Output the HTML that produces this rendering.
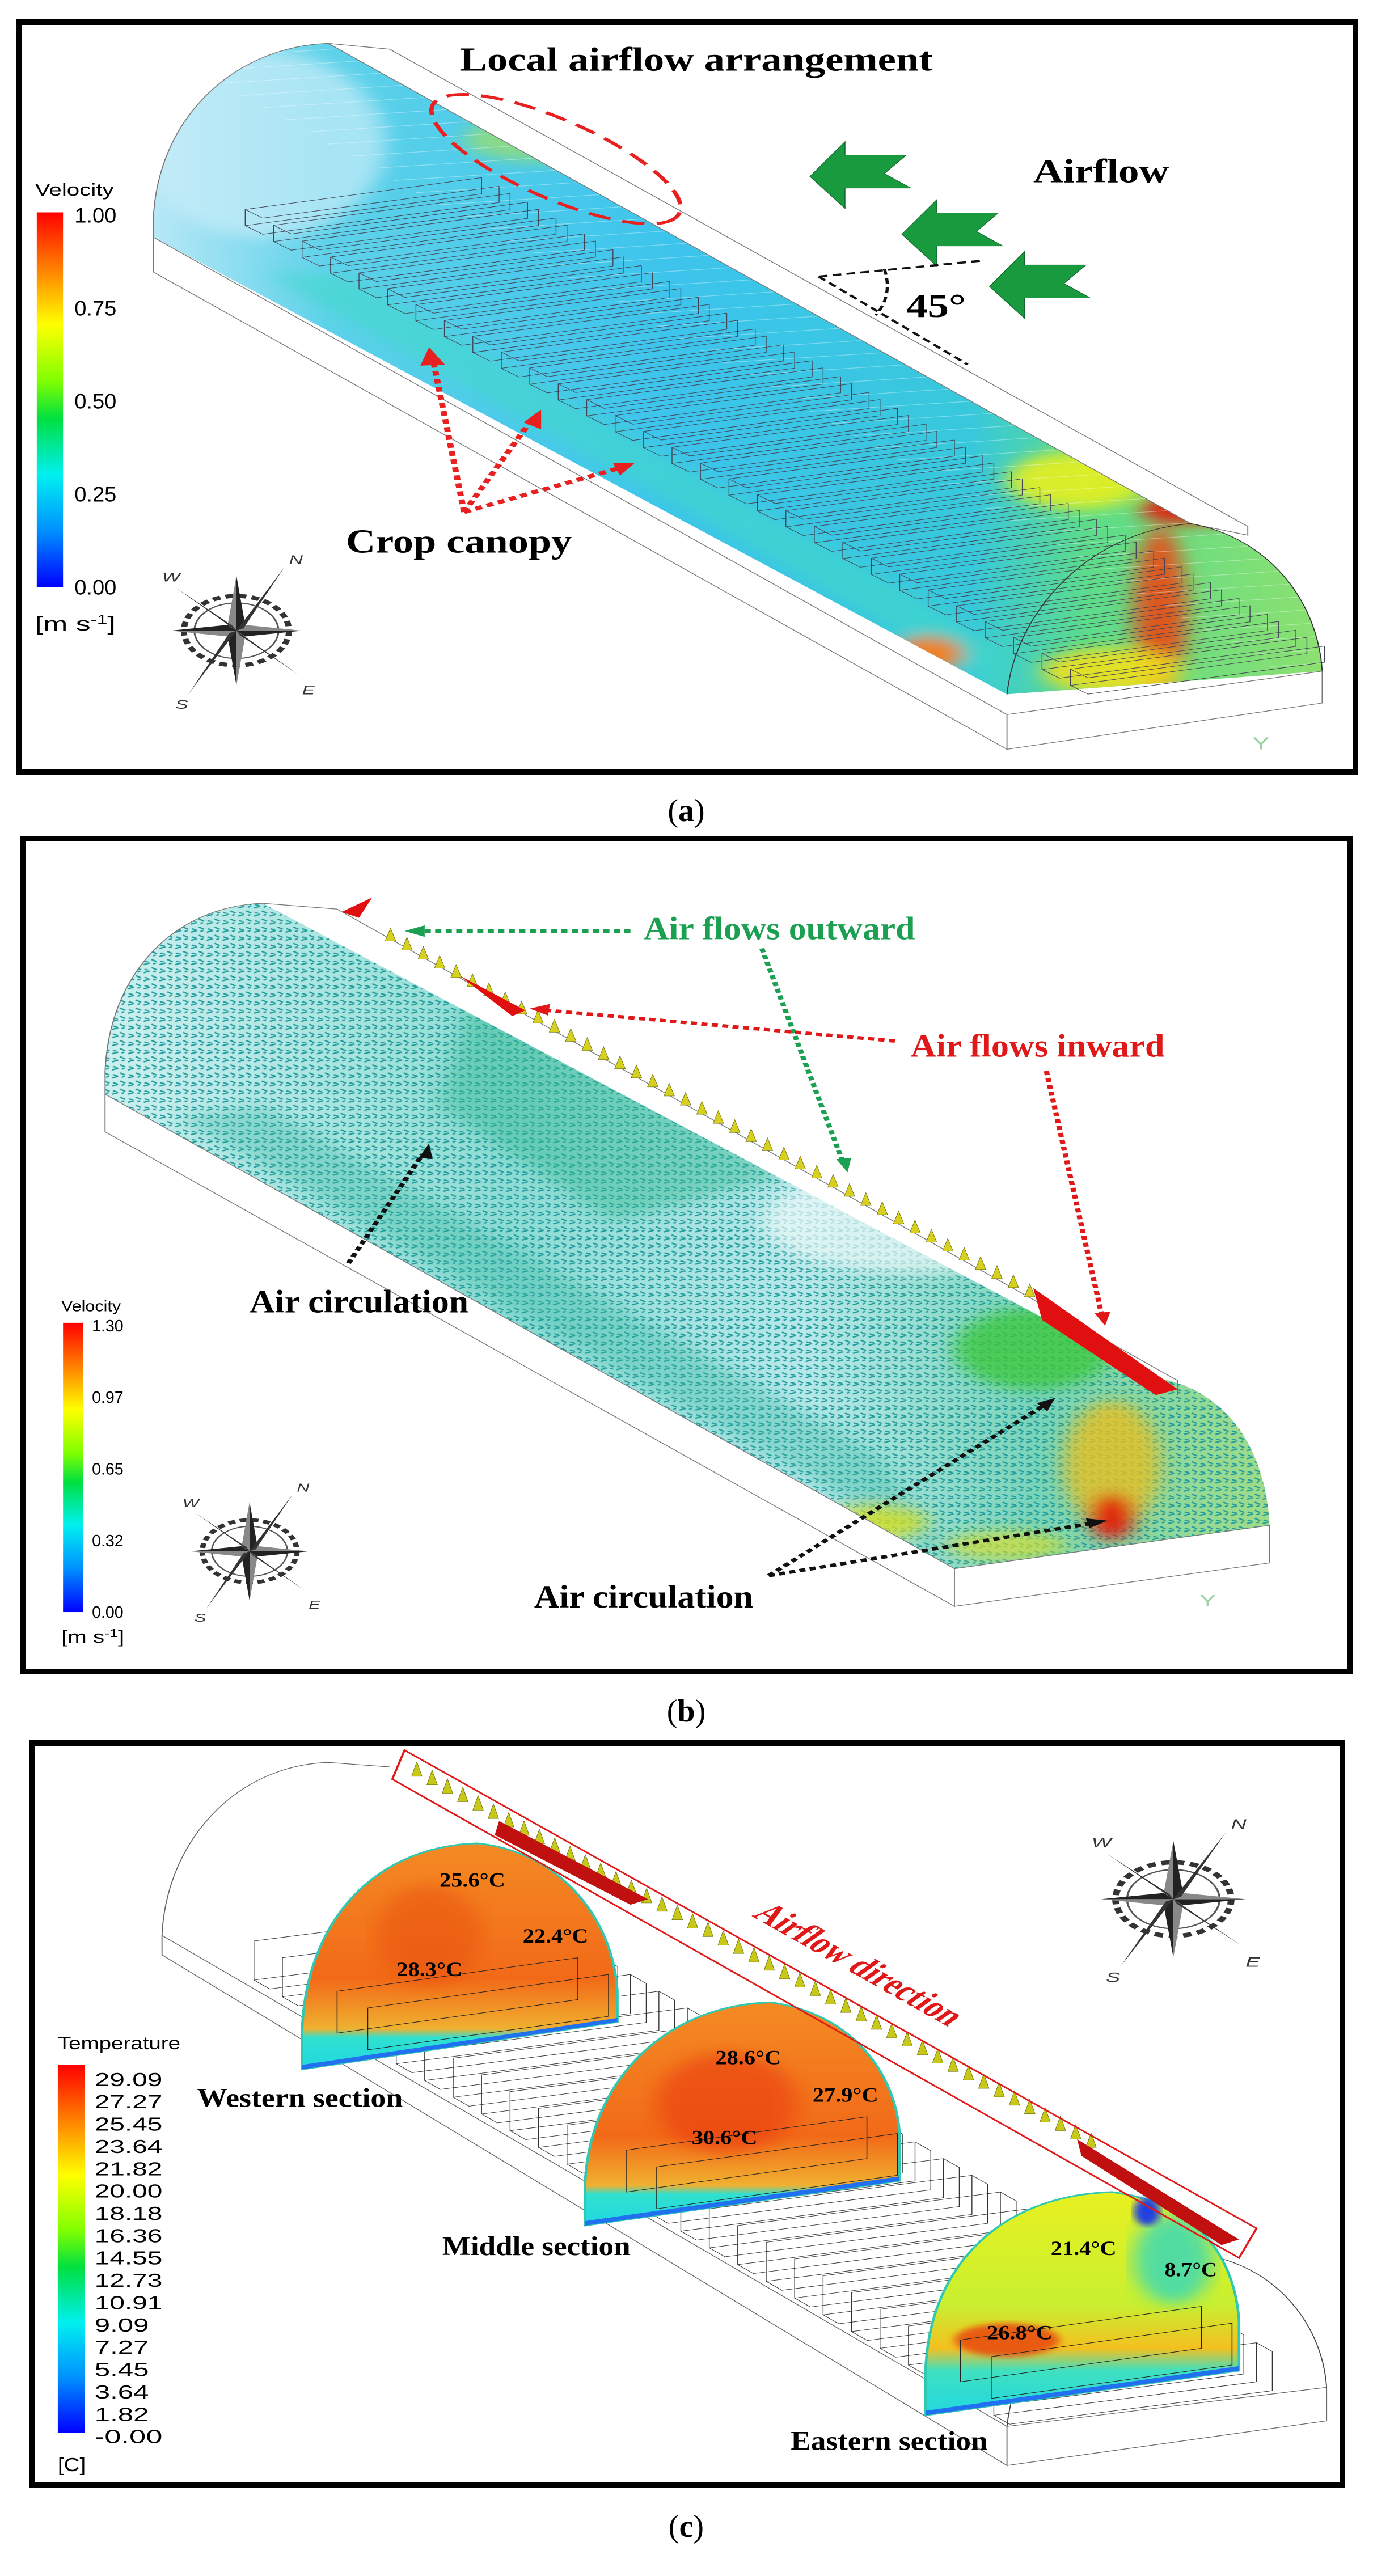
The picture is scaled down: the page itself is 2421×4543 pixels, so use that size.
<!DOCTYPE html>
<html><head><meta charset="utf-8"><style>
html,body{margin:0;padding:0;background:#fff}
svg{display:block}
.lab{font-family:"Liberation Serif",serif;font-weight:bold}
.sans{font-family:"Liberation Sans",sans-serif}
</style></head><body>
<svg id="fig" xmlns="http://www.w3.org/2000/svg" width="2421" height="4543" viewBox="0 0 2421 4543">
<defs>
<linearGradient id="gA" gradientUnits="userSpaceOnUse" x1="175" y1="0" x2="1510" y2="0">
<stop offset="0" stop-color="#b8e8f6"/><stop offset="0.15" stop-color="#5ed2ea"/><stop offset="0.45" stop-color="#3cc4ec"/><stop offset="0.7" stop-color="#38c8dc"/><stop offset="0.8" stop-color="#5cdc8a"/><stop offset="1" stop-color="#8ce070"/>
</linearGradient>
<linearGradient id="cbV" x1="0" y1="0" x2="0" y2="1">
<stop offset="0" stop-color="#ff0000"/><stop offset="0.15" stop-color="#ff8000"/><stop offset="0.3" stop-color="#ffff00"/><stop offset="0.45" stop-color="#80ff00"/><stop offset="0.55" stop-color="#00e040"/><stop offset="0.7" stop-color="#00f0f0"/><stop offset="0.85" stop-color="#0090ff"/><stop offset="1" stop-color="#0000ff"/>
</linearGradient>
<linearGradient id="gB" gradientUnits="userSpaceOnUse" x1="120" y1="0" x2="1450" y2="0">
<stop offset="0" stop-color="#cdeff0"/><stop offset="0.35" stop-color="#8edcd4"/><stop offset="0.6" stop-color="#b8e8ea"/><stop offset="0.8" stop-color="#7ad4b8"/><stop offset="1" stop-color="#a0dc88"/>
</linearGradient>
<pattern id="spk" patternUnits="userSpaceOnUse" width="18" height="14">
<path d="M2,4 l7,-3 M11,9 l6,4 M3,12 l5,2 M13,3 l3,-2" stroke="#1f9c9c" stroke-width="2.2"/>
</pattern>
<linearGradient id="secW" x1="0" y1="0" x2="0" y2="1">
<stop offset="0" stop-color="#f48a24"/><stop offset="0.6" stop-color="#f26a18"/><stop offset="0.82" stop-color="#f0b030"/><stop offset="0.86" stop-color="#30e0d0"/><stop offset="1" stop-color="#20d8e0"/>
</linearGradient>
<linearGradient id="secE" x1="0" y1="0" x2="0" y2="1">
<stop offset="0" stop-color="#e8f020"/><stop offset="0.5" stop-color="#c8f030"/><stop offset="0.7" stop-color="#f4c020"/><stop offset="0.8" stop-color="#40e0c0"/><stop offset="1" stop-color="#20d8e0"/>
</linearGradient>
<filter id="blur"><feGaussianBlur stdDeviation="12"/></filter>
<filter id="blur2"><feGaussianBlur stdDeviation="5"/></filter>
<clipPath id="clipA"><path d="M175,410 L175,380 C180,200 270,80 375,75 L1360,905 C1450,930 1505,1040 1510,1160 L1150,1200 Z"/></clipPath>
<clipPath id="clipB"><path d="M120,480 L120,440 C125,270 200,155 300,150 L1320,970 C1400,990 1445,1090 1450,1225 L1090,1300 Z"/></clipPath>
</defs>

<rect x="34" y="39" width="2356" height="1323" fill="none" stroke="#000" stroke-width="10"/>
<rect x="40" y="1479" width="2340" height="1469" fill="none" stroke="#000" stroke-width="10"/>
<rect x="56" y="3074" width="2311" height="1309" fill="none" stroke="#000" stroke-width="10"/>
<text x="1210" y="1448" font-size="56" text-anchor="middle" font-family="Liberation Serif, serif">(<tspan font-weight="bold">a</tspan>)</text>
<text x="1210" y="3036" font-size="56" text-anchor="middle" font-family="Liberation Serif, serif">(<tspan font-weight="bold">b</tspan>)</text>
<text x="1210" y="4474" font-size="56" text-anchor="middle" font-family="Liberation Serif, serif">(<tspan font-weight="bold">c</tspan>)</text>

<g id="pA" transform="translate(0,0) scale(1.544,1.0204)">
<path d="M175,410 L175,380 C180,200 270,80 375,75 L1360,905 C1450,930 1505,1040 1510,1160 L1150,1200 Z" fill="url(#gA)"/>
<g clip-path="url(#clipA)">
<g filter="url(#blur)">
<path d="M300,470 L1150,1200 L1150,1120 L400,480 Z" fill="#40d8c8" opacity="0.6"/>
<ellipse cx="1230" cy="830" rx="80" ry="50" fill="#e8f020" opacity="0.9"/>
<ellipse cx="1325" cy="1060" rx="30" ry="150" fill="#f04010" opacity="0.85"/>
<ellipse cx="1270" cy="1160" rx="80" ry="40" fill="#f0e020" opacity="0.9"/>
<ellipse cx="1060" cy="1130" rx="40" ry="30" fill="#f08020"/>
<ellipse cx="620" cy="240" rx="90" ry="40" fill="#a0e060" opacity="0.7"/>
<ellipse cx="1360" cy="880" rx="60" ry="25" fill="#e02010"/>
<ellipse cx="300" cy="250" rx="140" ry="160" fill="#c8ecf8" opacity="0.7"/>
</g>
<g id="stripesA"></g>
</g>
<g fill="none" stroke="#777" stroke-width="1.2">
<path d="M175,380 C180,200 270,80 375,75 L445,85 L1425,910 L1425,925 L1360,905"/>
<path d="M375,75 L1360,905"/>
<path d="M175,380 L175,470 L1150,1295 L1150,1235 L175,410"/>
<path d="M1150,1235 L1510,1160 L1510,1215 L1150,1295"/>
<path d="M1150,1200 C1160,1060 1240,920 1360,905 C1450,930 1505,1040 1510,1160" stroke="#333"/>
</g>
<g id="boxesA" fill="none" stroke="#445" stroke-width="0.9"></g>
<text class="lab" x="525" y="122" font-size="58" textLength="540" lengthAdjust="spacingAndGlyphs">Local airflow arrangement</text>
<ellipse cx="635" cy="275" rx="170" ry="62" transform="rotate(36 635 275)" fill="none" stroke="#e82020" stroke-width="5" stroke-dasharray="26 14"/>
<g fill="#1a9a3e" stroke="#0d6a2a" stroke-width="1">
<path d="M925,305 L965,245 L965,268 L1035,268 L1010,300 L1040,325 L965,325 L965,360 Z"/>
<path d="M1030,405 L1070,345 L1070,368 L1140,368 L1115,400 L1145,425 L1070,425 L1070,460 Z"/>
<path d="M1130,495 L1170,435 L1170,458 L1240,458 L1215,490 L1245,515 L1170,515 L1170,550 Z"/>
</g>
<text class="lab" x="1180" y="315" font-size="58" textLength="155" lengthAdjust="spacingAndGlyphs">Airflow</text>
<g stroke="#111" stroke-width="3.5" stroke-dasharray="10 6" fill="none">
<path d="M935,478 L1125,450"/><path d="M935,478 L1105,630"/><path d="M1010,465 Q1020,510 1000,545"/>
</g>
<text class="lab" x="1035" y="548" font-size="58" textLength="68" lengthAdjust="spacingAndGlyphs">45°</text>
<g stroke="#e82020" stroke-width="7" stroke-dasharray="8 6" fill="none">
<path d="M530,885 L495,625"/><path d="M530,885 L605,730"/><path d="M530,885 L705,810"/>
</g>
<g fill="#e82020"><path d="M490,600 L480,632 L508,630 Z"/><path d="M618,708 L598,730 L618,742 Z"/><path d="M725,800 L700,800 L708,822 Z"/></g>
<text class="lab" x="395" y="955" font-size="58" textLength="258" lengthAdjust="spacingAndGlyphs">Crop canopy</text>
<g id="cbA">
<rect x="42" y="367" width="30" height="648" fill="url(#cbV)"/>
<text class="sans" x="40" y="338" font-size="30" textLength="90" lengthAdjust="spacingAndGlyphs">Velocity</text>
<text class="sans" x="40" y="1090" font-size="34" textLength="92" lengthAdjust="spacingAndGlyphs">[m s<tspan dy="-12" font-size="22">-1</tspan><tspan dy="12">]</tspan></text>
</g>
<g id="compA" transform="translate(270,1090)"></g>
<text class="sans" x="1430" y="1295" font-size="30" fill="#9ad0a0">Y</text>
</g>

<g id="pB" transform="translate(0,1440) scale(1.544,1.0204)">
<path d="M120,480 L120,440 C125,270 200,155 300,150 L1320,970 C1400,990 1445,1090 1450,1225 L1090,1300 Z" fill="url(#gB)"/>
<g clip-path="url(#clipB)">
<rect x="100" y="140" width="1400" height="1200" fill="url(#spk)"/>
<g filter="url(#blur)">
<path d="M540,300 L900,620 L700,700 L500,500 Z" fill="#30b890" opacity="0.45"/>
<path d="M200,520 L1090,1290 L1000,1100 L300,500 Z" fill="#30b8a0" opacity="0.35"/>
<ellipse cx="1180" cy="920" rx="90" ry="70" fill="#40c840" opacity="0.8"/>
<ellipse cx="1270" cy="1120" rx="55" ry="110" fill="#e8c020" opacity="0.8"/>
<ellipse cx="1270" cy="1210" rx="25" ry="40" fill="#e02010"/>
<ellipse cx="1000" cy="1220" rx="60" ry="30" fill="#d8e020" opacity="0.8"/>
<ellipse cx="1150" cy="1260" rx="70" ry="25" fill="#d8e030" opacity="0.7"/>
<ellipse cx="1050" cy="700" rx="180" ry="90" fill="#eefafa" opacity="0.7"/>
</g>
</g>
<g fill="none" stroke="#777" stroke-width="1.2">
<path d="M120,440 C125,270 200,155 300,150 L385,160 L1345,975 L1345,1000"/>
<path d="M120,440 L120,545 L1090,1365 L1090,1300 L120,480"/>
<path d="M1090,1300 L1450,1225 L1450,1290 L1090,1365"/>
</g>
<g id="ridgeB"></g>
<g fill="#e01010"><path d="M390,165 L425,140 L410,175 Z"/><path d="M525,275 L600,335 L585,345 Z"/><path d="M1180,815 L1345,990 L1320,1000 L1190,870 Z"/></g>
<text class="lab" x="735" y="212" font-size="56" fill="#1aa050" textLength="310" lengthAdjust="spacingAndGlyphs">Air flows outward</text>
<text class="lab" x="1040" y="415" font-size="56" fill="#e01818" textLength="290" lengthAdjust="spacingAndGlyphs">Air flows inward</text>
<text class="lab" x="285" y="857" font-size="56" textLength="250" lengthAdjust="spacingAndGlyphs">Air circulation</text>
<text class="lab" x="610" y="1367" font-size="56" textLength="250" lengthAdjust="spacingAndGlyphs">Air circulation</text>
<g fill="none" stroke-width="6" stroke-dasharray="7 5">
<path d="M720,198 L480,198" stroke="#1aa050"/><path d="M870,228 L962,595" stroke="#1aa050"/>
<path d="M1022,388 L625,335" stroke="#e01818"/><path d="M1195,440 L1258,860" stroke="#e01818"/>
<path d="M398,772 L482,585" stroke="#111"/><path d="M878,1312 L1190,1020" stroke="#111"/><path d="M878,1312 L1245,1222" stroke="#111"/>
</g>
<g><path d="M462,198 L485,188 L485,208 Z" fill="#1aa050"/><path d="M968,615 L955,592 L972,590 Z" fill="#1aa050"/>
<path d="M605,332 L628,324 L626,344 Z" fill="#e01818"/><path d="M1262,880 L1250,858 L1268,856 Z" fill="#e01818"/>
<path d="M490,565 L478,590 L494,592 Z" fill="#111"/><path d="M1205,1005 L1184,1014 L1196,1028 Z" fill="#111"/><path d="M1265,1217 L1240,1213 L1244,1230 Z" fill="#111"/></g>
<g id="cbB">
<rect x="72" y="875" width="23" height="500" fill="url(#cbV)"/>
<text class="sans" x="70" y="855" font-size="26" textLength="68" lengthAdjust="spacingAndGlyphs">Velocity</text>
<text class="sans" x="70" y="1428" font-size="30" textLength="72" lengthAdjust="spacingAndGlyphs">[m s<tspan dy="-10" font-size="20">-1</tspan><tspan dy="10">]</tspan></text>
</g>
<g id="compB" transform="translate(285,1270) scale(0.9)"></g>
<text class="sans" x="1370" y="1365" font-size="28" fill="#9ad0a0">Y</text>
</g>

<g id="pC" transform="translate(0,3000) scale(1.544,0.984)">
<g fill="none" stroke="#666" stroke-width="1.2">
<path d="M185,420 C190,250 270,115 375,110 L445,118"/>
<path d="M185,420 L185,455 L1150,1370 L1150,1300 L185,420"/>
<path d="M1150,1300 L1515,1230 L1515,1290 L1150,1370"/>
<path d="M1150,1300 C1160,1150 1240,1010 1360,990 C1450,1000 1510,1110 1515,1230" stroke="#444"/>
</g>
<g id="boxesC" fill="none" stroke="#333" stroke-width="0.9"></g>
<path d="M345,660 L345,590 C350,390 430,260 545,255 C640,270 700,390 705,520 L705,575 Z" fill="url(#secW)" stroke="#30c8b0" stroke-width="3"/>
<ellipse cx="490" cy="420" rx="60" ry="90" fill="#e85010" opacity="0.5" filter="url(#blur)"/>
<path d="M345,660 L705,575 L705,568 L345,652 Z" fill="#2070f0"/>
<path d="M668,940 L668,870 C672,680 760,545 880,540 C975,560 1022,670 1027,770 L1027,860 Z" fill="url(#secW)" stroke="#30c8b0" stroke-width="3"/>
<ellipse cx="830" cy="720" rx="80" ry="90" fill="#e83010" opacity="0.5" filter="url(#blur)"/>
<path d="M668,940 L1027,860 L1027,852 L668,932 Z" fill="#2070f0"/>
<path d="M1057,1280 L1057,1200 C1062,1000 1150,885 1270,880 C1370,900 1410,1000 1415,1110 L1415,1200 Z" fill="url(#secE)" stroke="#30c8b0" stroke-width="3"/>
<ellipse cx="1150" cy="1145" rx="60" ry="30" fill="#e84010" opacity="0.8" filter="url(#blur2)"/>
<ellipse cx="1340" cy="1000" rx="45" ry="80" fill="#30d8c0" opacity="0.8" filter="url(#blur)"/>
<ellipse cx="1310" cy="915" rx="15" ry="25" fill="#2040e0" filter="url(#blur2)"/>
<path d="M1057,1280 L1415,1200 L1415,1192 L1057,1272 Z" fill="#2070f0"/>
<g id="sectBoxes" fill="none" stroke="#222" stroke-width="1"></g>
<g id="ridgeC"></g>
<path d="M462,88 L1435,945 L1415,998 L448,140 Z" fill="none" stroke="#e01818" stroke-width="2.5"/>
<g fill="#c01010"><path d="M570,215 L740,355 L720,365 L565,240 Z"/><path d="M1230,785 L1415,965 L1395,975 L1235,815 Z"/></g>
<text class="lab" font-size="52" fill="#e01818" transform="translate(858,385) rotate(41.5)" textLength="300" lengthAdjust="spacingAndGlyphs">Airflow direction</text>
<g class="lab" font-size="36">
<text x="502" y="333" textLength="75" lengthAdjust="spacingAndGlyphs">25.6°C</text>
<text x="597" y="433" textLength="75" lengthAdjust="spacingAndGlyphs">22.4°C</text>
<text x="453" y="493" textLength="75" lengthAdjust="spacingAndGlyphs">28.3°C</text>
<text x="817" y="651" textLength="75" lengthAdjust="spacingAndGlyphs">28.6°C</text>
<text x="928" y="718" textLength="75" lengthAdjust="spacingAndGlyphs">27.9°C</text>
<text x="790" y="794" textLength="75" lengthAdjust="spacingAndGlyphs">30.6°C</text>
<text x="1200" y="993" textLength="75" lengthAdjust="spacingAndGlyphs">21.4°C</text>
<text x="1330" y="1031" textLength="60" lengthAdjust="spacingAndGlyphs">8.7°C</text>
<text x="1127" y="1144" textLength="75" lengthAdjust="spacingAndGlyphs">26.8°C</text>
</g>
<g class="lab" font-size="48">
<text x="225" y="727" textLength="235" lengthAdjust="spacingAndGlyphs">Western section</text>
<text x="505" y="993" textLength="215" lengthAdjust="spacingAndGlyphs">Middle section</text>
<text x="903" y="1342" textLength="225" lengthAdjust="spacingAndGlyphs">Eastern section</text>
</g>
<g id="cbC">
<rect x="66" y="652" width="31" height="660" fill="url(#cbV)"/>
<text class="sans" x="66" y="624" font-size="32" textLength="140" lengthAdjust="spacingAndGlyphs">Temperature</text>
<text class="sans" x="66" y="1380" font-size="34" textLength="32" lengthAdjust="spacingAndGlyphs">[C]</text>
</g>
<g id="compC" transform="translate(1340,355) scale(1.1)"></g>
</g>
</svg>
<script>
var NS="http://www.w3.org/2000/svg";
var velTicksA=["1.00","0.75","0.50","0.25","0.00"];
var velTicksB=["1.30","0.97","0.65","0.32","0.00"];
var tempTicks=["29.09","27.27","25.45","23.64","21.82","20.00","18.18","16.36","14.55","12.73","10.91","9.09","7.27","5.45","3.64","1.82","-0.00"];
function mk(tag,attrs,parent){var e=document.createElementNS(NS,tag);for(var k in attrs)e.setAttribute(k,attrs[k]);parent.appendChild(e);return e;}
function ticks(gid,arr,x,y0,y1,fs,tl){
  var g=document.getElementById(gid);
  for(var i=0;i<arr.length;i++){
    var y=y0+(y1-y0)*i/(arr.length-1);
    var t=mk('text',{x:x,y:y+fs*0.35,'font-size':fs,'class':'sans',textLength:tl*arr[i].length/4,lengthAdjust:'spacingAndGlyphs'},g);
    
    
    t.textContent=arr[i];
  }
}
ticks('cbA',velTicksA,85,372,1015,36,48);
ticks('cbB',velTicksB,105,880,1375,28,36);
ticks('cbC',tempTicks,108,678,1318,34,62);
var bA=document.getElementById('boxesA');
for(var i=0;i<30;i++){
  var x=280+i*32.5,y=390+i*27.4;
  mk('path',{d:'M'+x+','+y+' l270,-55 l0,-28 l-270,55 Z M'+x+','+(y-28)+' l20,15 l270,-55 M'+x+','+y+' l20,15 l270,-55 l0,-28'},bA);
}
var sA=document.getElementById('stripesA');
for(var i=0;i<60;i++){mk('path',{d:'M'+(150+i*25)+','+(60+i*21)+' l420,-40',stroke:'#ffffff','stroke-width':1.2,opacity:0.35},sA);}
var bC=document.getElementById('boxesC');
for(var i=0;i<27;i++){
  var x=290+i*32.5,y=430+i*30;
  mk('path',{d:'M'+x+','+y+' l0,70 l300,-60 l0,-70 Z M'+x+','+(y+70)+' l18,16 l300,-60 l0,-70 l-18,-16'},bC);
}
var sb=document.getElementById('sectBoxes');
[[385,520],[715,805],[1097,1145]].forEach(function(p){
  mk('path',{d:'M'+p[0]+','+p[1]+' l275,-60 l0,75 l-275,60 Z M'+(p[0]+35)+','+(p[1]+30)+' l275,-60 l0,75 l-275,60 Z'},sb);
});
function ridge(gid,x0,y0,x1,y1,n,col,h){
  var g=document.getElementById(gid);
  for(var i=0;i<n;i++){var f=i/(n-1),x=x0+(x1-x0)*f,y=y0+(y1-y0)*f;
    mk('path',{d:'M'+x+','+y+' l6,-'+h+' l6,'+h+' Z',fill:col,stroke:'#6a7010','stroke-width':0.6},g);}
}
ridge('ridgeB',440,215,1170,830,40,'#d8d020',22);
ridge('ridgeC',470,135,1240,800,45,'#c8c818',26);
function compass(id){
  var g=document.getElementById(id);
  
  
  mk('circle',{cx:0,cy:0,r:60,fill:'none',stroke:'#333','stroke-width':7,'stroke-dasharray':'9 6'},g);
  mk('circle',{cx:0,cy:0,r:48,fill:'none',stroke:'#555','stroke-width':2},g);
  mk('path',{d:'M0,-95 L10,-10 L0,0 Z M0,95 L-10,10 L0,0 Z M-75,0 L-10,-10 L0,0 Z M75,0 L10,10 L0,0 Z',fill:'#222'},g);
  mk('path',{d:'M0,-95 L-10,-10 L0,0 Z M0,95 L10,10 L0,0 Z M-75,0 L-10,10 L0,0 Z M75,0 L10,-10 L0,0 Z',fill:'#888'},g);
  mk('path',{d:'M55,-110 L8,-4 L0,0 Z M-55,110 L-8,4 L0,0 Z M-70,-75 L-4,-8 L0,0 Z M70,75 L4,8 L0,0 Z',fill:'#333'},g);
  var L=[['N',60,-115],['W',-85,-85],['E',75,110],['S',-70,135]];
  L.forEach(function(l){var t=mk('text',{x:l[1],y:l[2],'font-size':22,'font-style':'italic','class':'sans',fill:'#333'},g);t.textContent=l[0];});
}
compass('compA');compass('compB');compass('compC');
</script>
</body></html>
